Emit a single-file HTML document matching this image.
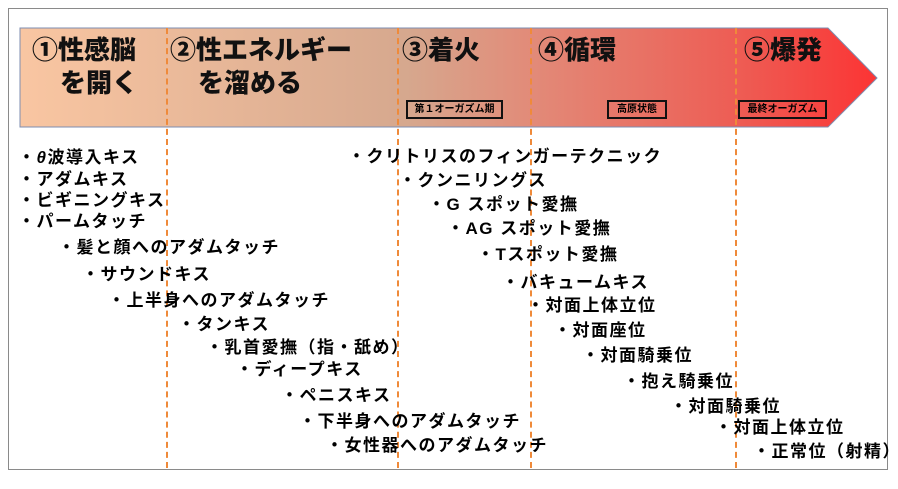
<!DOCTYPE html>
<html><head><meta charset="utf-8"><style>
body{margin:0;width:898px;height:489px;background:#fff;position:relative;overflow:hidden;font-family:"Liberation Sans","Noto Sans CJK JP",sans-serif;}
.frame{position:absolute;left:8px;top:8px;width:880px;height:462px;border:1px solid #8a8a8a;box-sizing:border-box;}
.t{position:absolute;font-weight:bold;font-size:17px;line-height:20px;letter-spacing:1.5px;white-space:nowrap;color:#000;}
.h{position:absolute;font-weight:900;font-size:26px;line-height:30px;white-space:nowrap;color:#111;}
.b{position:absolute;border:2px solid #111;font-size:10px;font-weight:bold;line-height:15px;height:15px;text-align:center;white-space:nowrap;background:transparent;}
.d{position:absolute;top:28px;height:440px;border-left:2px dashed #ef8a3a;}
</style></head><body>
<div class="frame"></div>
<svg style="position:absolute;left:0;top:0" width="898" height="489">
<defs><linearGradient id="g" x1="20" x2="877" y1="0" y2="0" gradientUnits="userSpaceOnUse">
<stop offset="0" stop-color="#f9c6a2"/><stop offset="0.45" stop-color="#d6a88e"/><stop offset="0.6" stop-color="#e28a78"/><stop offset="0.85" stop-color="#ee5a52"/><stop offset="1" stop-color="#fc3434"/></linearGradient></defs>
<polygon points="20,28 828,28 877,78 828,127 20,127" fill="url(#g)" stroke="#7d8db0" stroke-width="1"/>
</svg>
<div class="d" style="left:166px"></div>
<div class="d" style="left:397px"></div>
<div class="d" style="left:530px"></div>
<div class="d" style="left:735px"></div>
<div class="h" style="left:32px;top:35px">①性感脳</div>
<div class="h" style="left:60px;top:68px">を開く</div>
<div class="h" style="left:170px;top:35px">②性エネルギー</div>
<div class="h" style="left:198px;top:68px">を溜める</div>
<div class="h" style="left:402px;top:35px">③着火</div>
<div class="h" style="left:538px;top:35px">④循環</div>
<div class="h" style="left:744px;top:35px">⑤爆発</div>
<div class="b" style="left:406px;top:100px;width:93px">第１オーガズム期</div>
<div class="b" style="left:607px;top:100px;width:56px">高原状態</div>
<div class="b" style="left:738px;top:100px;width:85px">最終オーガズム</div>

<div class="t" style="left:18px;top:148px">・<i>θ</i>波導入キス</div>
<div class="t" style="left:18px;top:170px">・アダムキス</div>
<div class="t" style="left:18px;top:191px">・ビギニングキス</div>
<div class="t" style="left:18px;top:212px">・パームタッチ</div>
<div class="t" style="left:58px;top:238px">・髪と顔へのアダムタッチ</div>
<div class="t" style="left:82px;top:265px">・サウンドキス</div>
<div class="t" style="left:108px;top:291px">・上半身へのアダムタッチ</div>
<div class="t" style="left:178px;top:315px">・タンキス</div>
<div class="t" style="left:206px;top:338px">・乳首愛撫（指・舐め）</div>
<div class="t" style="left:236px;top:360px">・ディープキス</div>
<div class="t" style="left:281px;top:386px">・ペニスキス</div>
<div class="t" style="left:299px;top:412px">・下半身へのアダムタッチ</div>
<div class="t" style="left:326px;top:436px">・女性器へのアダムタッチ</div>

<div class="t" style="left:348px;top:147px">・クリトリスのフィンガーテクニック</div>
<div class="t" style="left:399px;top:171px">・クンニリングス</div>
<div class="t" style="left:428px;top:195px">・G スポット愛撫</div>
<div class="t" style="left:447px;top:219px">・AG スポット愛撫</div>
<div class="t" style="left:477px;top:245px">・Tスポット愛撫</div>
<div class="t" style="left:502px;top:273px">・バキュームキス</div>
<div class="t" style="left:527px;top:296px">・対面上体立位</div>
<div class="t" style="left:554px;top:321px">・対面座位</div>
<div class="t" style="left:582px;top:346px">・対面騎乗位</div>
<div class="t" style="left:623px;top:372px">・抱え騎乗位</div>
<div class="t" style="left:670px;top:397px">・対面騎乗位</div>
<div class="t" style="left:715px;top:418px">・対面上体立位</div>
<div class="t" style="left:753px;top:442px">・正常位（射精）</div>
</body></html>
